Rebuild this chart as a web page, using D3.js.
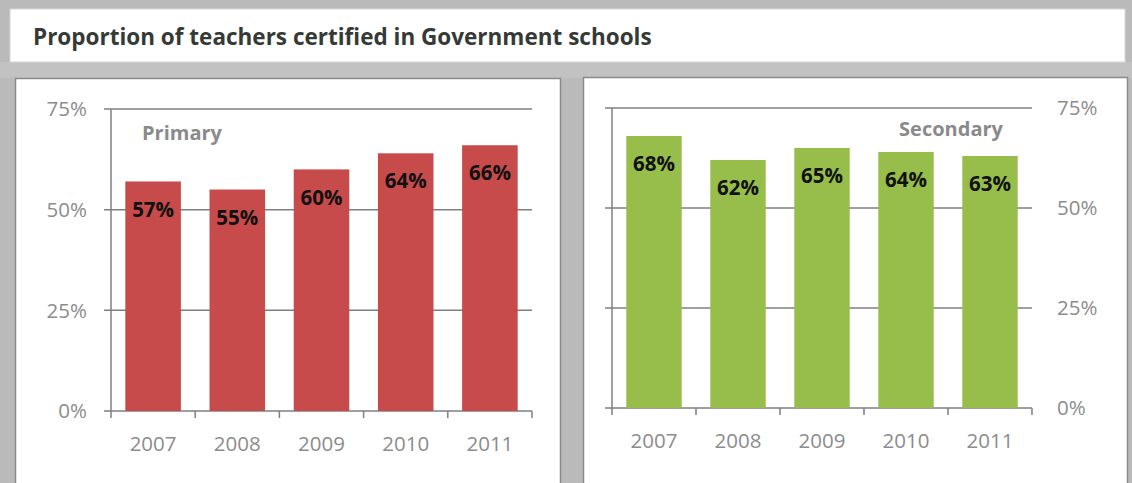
<!DOCTYPE html>
<html>
<head>
<meta charset="utf-8">
<script src="https://cdn.jsdelivr.net/npm/d3@7"></script>
<style>
  html, body { margin: 0; padding: 0; background: #bdbdbd; }
  svg { display: block; }
  text { font-family: "Open Sans", "DejaVu Sans", sans-serif; }
</style>
</head>
<body>
<svg id="chart" width="1132" height="483"></svg>
<script>
const title = "Proportion of teachers certified in Government schools";
const years = ["2007", "2008", "2009", "2010", "2011"];
const primaryValues = [57, 55, 60, 64, 66];
const secondaryValues = [68, 62, 65, 64, 63];
const yTicks = [0, 25, 50, 75];
const panelNames = ["Primary", "Secondary"];
const barColors = ["#c84b4b", "#97be4a"];

const svg = d3.select("#chart");

// frame background
svg.append("rect").attr("x", 0).attr("y", 0).attr("width", 1132).attr("height", 483).attr("fill", "#bababa");
svg.append("rect").attr("x", 0).attr("y", 62).attr("width", 1132).attr("height", 16).attr("fill", "#c2c2c2");

// title box
svg.append("rect").attr("x", 10).attr("y", 9).attr("width", 1115).attr("height", 53)
  .attr("fill", "#fff").attr("stroke", "#d6d6d6").attr("stroke-width", 1);
svg.append("text").attr("x", 33).attr("y", 45).attr("font-size", 22.5).attr("font-weight", "bold")
  .attr("fill", "#363a36").text(title);

// panels
const panels = [
  {x: 15, y: 78, w: 545, h: 410},
  {x: 583, y: 77, w: 544, h: 411}
];
panels.forEach(p => {
  svg.append("rect").attr("x", p.x + 0.5).attr("y", p.y + 0.5).attr("width", p.w).attr("height", p.h)
    .attr("fill", "#fff").attr("stroke", "#8a8a8a").attr("stroke-width", 1.5);
});

function drawChart(cfg) {
  const {values, left, right, y0, y75, color, axisRight, name, nameX, nameY} = cfg;
  const x = d3.scaleBand().domain(years).range([left, right]).paddingInner(0.34).paddingOuter(0.17);
  const xTicks = d3.scaleLinear().domain([0, years.length]).range([left, right]);
  const y = d3.scaleLinear().domain([0, 75]).range([y0, y75]);
  const g = svg.append("g");
  const gridColor = "#7f7f7f";

  // gridlines (incl. tick extension to the left)
  g.selectAll("line.grid").data(yTicks).join("line")
    .attr("x1", left - 7).attr("x2", right)
    .attr("y1", d => y(d)).attr("y2", d => y(d))
    .attr("stroke", gridColor).attr("stroke-width", 1.5);

  // left vertical axis line
  g.append("line").attr("x1", left).attr("x2", left).attr("y1", y(0)).attr("y2", y(75))
    .attr("stroke", gridColor).attr("stroke-width", 1.5);

  // x ticks
  g.selectAll("line.xt").data(d3.range(years.length + 1)).join("line")
    .attr("x1", d => xTicks(d)).attr("x2", d => xTicks(d))
    .attr("y1", y(0)).attr("y2", y(0) + 7)
    .attr("stroke", gridColor).attr("stroke-width", 1.5);

  // bars
  g.selectAll("rect.bar").data(values).join("rect")
    .attr("x", (d, i) => x(years[i])).attr("width", x.bandwidth())
    .attr("y", d => y(d)).attr("height", d => y(0) - y(d))
    .attr("fill", color);

  // y tick labels
  g.selectAll("text.yl").data(yTicks).join("text")
    .attr("x", axisRight ? right + 25 : left - 24)
    .attr("y", d => y(d)).attr("dy", "0.35em")
    .attr("text-anchor", axisRight ? "start" : "end")
    .attr("font-size", 20.5).attr("fill", "#8c8c8c")
    .text(d => d + "%");

  // x labels
  g.selectAll("text.xl").data(years).join("text")
    .attr("x", d => x(d) + x.bandwidth() / 2).attr("y", y(0) + 40)
    .attr("text-anchor", "middle").attr("font-size", 20.5).attr("fill", "#8c8c8c")
    .text(d => d);

  // value labels
  g.selectAll("text.vl").data(values).join("text")
    .attr("x", (d, i) => x(years[i]) + x.bandwidth() / 2)
    .attr("y", d => y(d) + 28).attr("dy", "0.35em")
    .attr("text-anchor", "middle").attr("font-size", 20.5).attr("font-weight", "bold").attr("fill", "#111")
    .text(d => d + "%");

  // panel name
  g.append("text").attr("x", nameX).attr("y", nameY).attr("dy", "0.35em")
    .attr("text-anchor", "middle").attr("font-size", 20).attr("font-weight", "bold").attr("fill", "#8a8a8a")
    .text(name);
}

drawChart({values: primaryValues, left: 111, right: 532, y0: 411, y75: 109, color: barColors[0],
  axisRight: false, name: panelNames[0], nameX: 182, nameY: 133});
drawChart({values: secondaryValues, left: 612, right: 1032, y0: 408, y75: 108, color: barColors[1],
  axisRight: true, name: panelNames[1], nameX: 951, nameY: 129});
</script>
</body>
</html>
